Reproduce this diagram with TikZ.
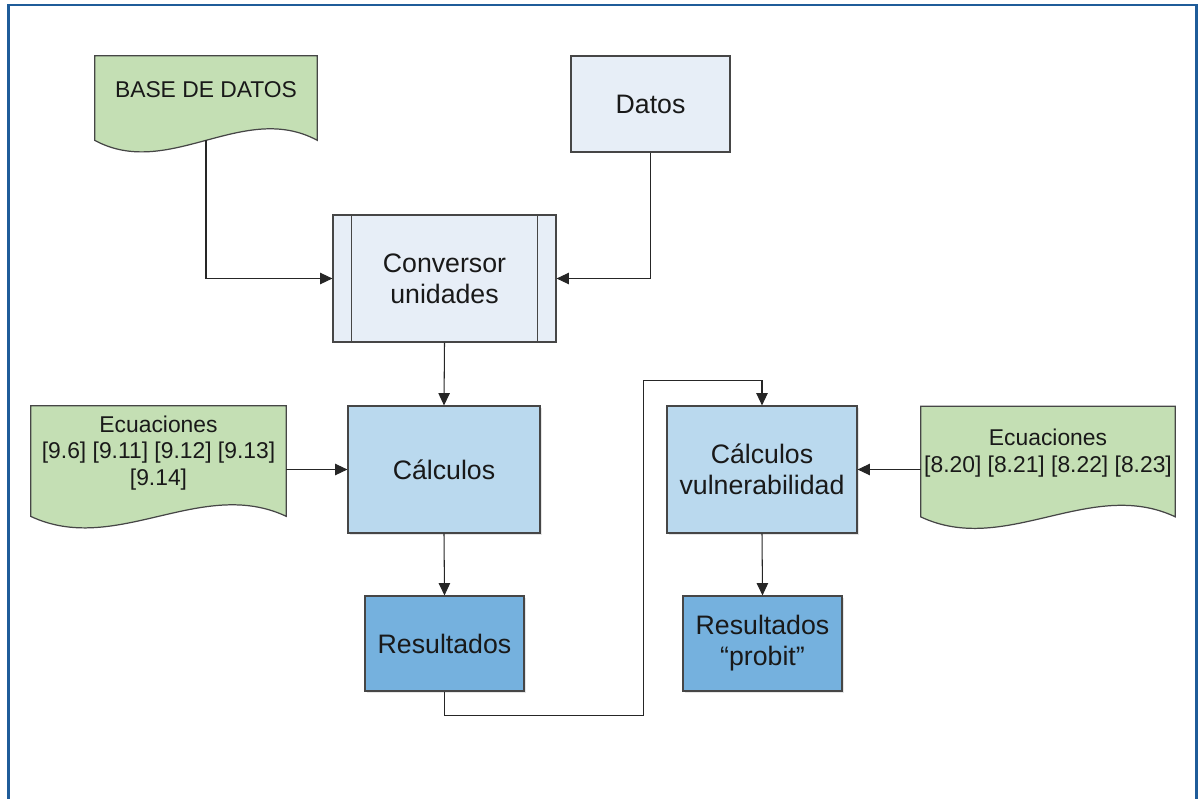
\documentclass[tikz,border=0pt]{standalone}
\usepackage{fontspec}
\setmainfont{Liberation Sans}
\usetikzlibrary{arrows.meta,calc,shadows}

\definecolor{docgreen}{RGB}{196,223,180}
\definecolor{paleblue}{RGB}{231,238,247}
\definecolor{midblue}{RGB}{186,217,238}
\definecolor{deepblue}{RGB}{117,177,222}
\definecolor{framblue}{RGB}{31,92,153}
\definecolor{linegray}{RGB}{70,70,70}

% wavy bottom of a document node
\newcommand{\docwave}[1]{%
  \filldraw[docline] (#1.north west) -- (#1.north east) -- (#1.south east)
    .. controls ($(#1.south east)!0.333!(#1.south west)+(0,-40)$)
    and ($(#1.south east)!0.667!(#1.south west)+(0,40)$) .. (#1.south west) -- cycle;}

\begin{document}
\begin{tikzpicture}[x=0.02cm,y=-0.02cm,
    box/.style={draw=linegray,line width=0.7pt,inner sep=0pt,align=center,
      font=\fontsize{15.2}{17.6}\selectfont,text=black!90},
    shade box/.style={box,drop shadow={shadow xshift=0.9pt,shadow yshift=-0.9pt,
      fill=black!20,opacity=0.5}},
    docbox/.style={inner sep=0pt},
    docline/.style={draw=linegray,line width=0.7pt,fill=docgreen},
    doctext/.style={align=center,inner sep=0pt,font=\fontsize{13}{15}\selectfont,text=black!90},
    arr/.style={draw=black!85,line width=0.6pt,-{Triangle[length=7pt,width=6.5pt]}}]
  \useasboundingbox (0,0) rectangle (1199,798);
  \draw[framblue,line width=1.7pt] (8.5,800) -- (8.5,5) -- (1196,5) -- (1196,800);

  % documents
  \node[docbox,minimum width=4.44cm,minimum height=1.68cm] (bd) at (206,98) {};
  \docwave{bd}
  \node[doctext] (bdtxt) at (206,90) {BASE DE DATOS};
  \node[docbox,minimum width=5.1cm,minimum height=2.2cm] (ecl) at (158.5,461) {};
  \docwave{ecl}
  \node[doctext] (ecltxt) at (158.5,453) {Ecuaciones\\{}[9.6] [9.11] [9.12] [9.13]\\{}[9.14]};
  \node[docbox,minimum width=5.08cm,minimum height=2.2cm] (ecr) at (1048,461.5) {};
  \docwave{ecr}
  \node[doctext] (ecrtxt) at (1048,453) {Ecuaciones\\{}[8.20] [8.21] [8.22] [8.23]};

  % boxes
  \node[box,fill=paleblue,minimum width=3.18cm,minimum height=1.92cm] (datos) at (650.5,104) {Datos};
  \node[box,fill=paleblue,minimum width=4.46cm,minimum height=2.54cm] (conv) at (444.5,278.5) {Conversor\\unidades};
  \draw[linegray,line width=0.7pt] ($(conv.north west)+(19,0)$) -- ($(conv.south west)+(19,0)$);
  \draw[linegray,line width=0.7pt] ($(conv.north east)+(-19,0)$) -- ($(conv.south east)+(-19,0)$);
  \node[shade box,fill=midblue,minimum width=3.84cm,minimum height=2.54cm] (calc) at (444,469.5) {C\'alculos};
  \node[shade box,fill=deepblue,minimum width=3.18cm,minimum height=1.9cm] (res) at (444.5,643.5) {Resultados};
  \node[shade box,fill=midblue,minimum width=3.8cm,minimum height=2.54cm] (cv) at (762,469.5) {C\'alculos\\vulnerabilidad};
  \node[shade box,fill=deepblue,minimum width=3.18cm,minimum height=1.9cm] (probit) at (762.5,643.5) {Resultados\\``probit''};

  % connectors
  \draw[arr] (bd.south) |- (conv.west);
  \draw[arr] (datos.south) |- (conv.east);
  \draw[arr] (conv.south) -- (calc.north);
  \draw[arr] (ecl.east |- calc.west) -- (calc.west);
  \draw[arr] (calc.south) -- (res.north);
  \draw[arr] (res.south) |- ++(199,24) |- ($(cv.north)+(0,-25)$) -- (cv.north);
  \draw[arr] (ecr.west |- cv.east) -- (cv.east);
  \draw[arr] (cv.south) -- (probit.north);
\end{tikzpicture}
\end{document}
